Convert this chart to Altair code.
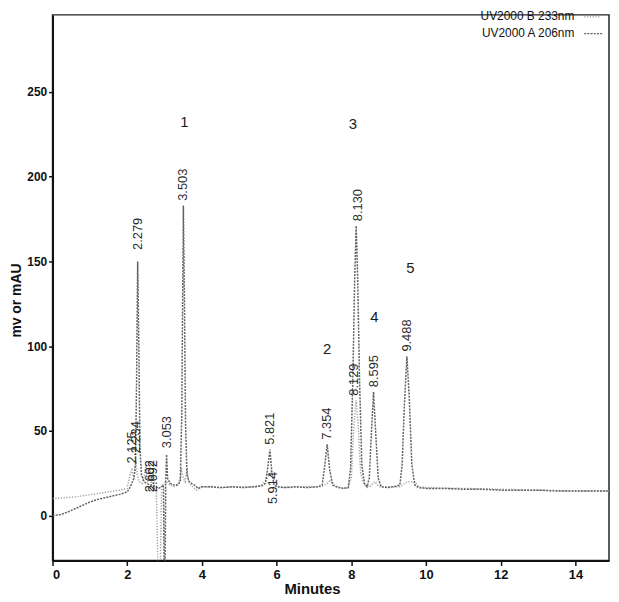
import altair as alt
import pandas as pd

series_b = "UV2000 B 233nm"
series_a = "UV2000 A 206nm"

# (minutes, mV)
b_points = [(0, 10), (0.3, 10.5), (0.6, 11), (0.9, 12), (1.2, 13), (1.5, 14), (1.8, 15), (2.0, 16),
            (2.05, 22), (2.09, 25), (2.125, 27), (2.17, 22), (2.2, 26), (2.234, 32), (2.27, 24),
            (2.32, 20), (2.4, 19), (2.46, 24), (2.5, 30), (2.55, 20), (2.602, 28), (2.65, 18),
            (2.692, 26), (2.73, 16), (2.78, 14), (2.83, -40), (2.88, -40), (2.92, 17), (2.97, 19),
            (3.05, 20), (3.15, 18), (3.25, 17), (3.35, 18), (3.42, 22), (3.45, 28), (3.5, 22),
            (3.55, 20), (3.6, 28), (3.64, 20), (3.75, 17), (3.85, 15), (4.0, 17), (4.5, 16.5),
            (5.0, 17), (5.4, 17), (5.6, 18), (5.75, 22), (5.85, 26), (5.914, 22), (5.95, 20),
            (6.05, 17), (6.3, 16.5), (6.8, 17), (7.2, 17), (7.35, 19), (7.45, 21), (7.55, 18),
            (7.7, 16), (7.9, 16.5), (8.0, 22), (8.06, 50), (8.129, 68), (8.18, 55), (8.25, 25),
            (8.35, 18), (8.5, 17), (8.62, 20), (8.75, 17), (9.0, 17), (9.3, 17), (9.5, 20),
            (9.7, 20), (9.8, 17), (10.0, 16.5), (11, 16), (12, 15.5), (13, 15), (14, 14.5),
            (14.9, 14.5)]

a_points = [(0, 0), (0.2, 0.5), (0.4, 2), (0.6, 4), (0.8, 6), (1.0, 8), (1.2, 9.5), (1.4, 10.5),
            (1.6, 11.5), (1.8, 12.5), (2.0, 14), (2.06, 16), (2.12, 19), (2.18, 22), (2.22, 30),
            (2.25, 80), (2.279, 150), (2.31, 100), (2.34, 40), (2.38, 24), (2.45, 20), (2.52, 19),
            (2.6, 18), (2.68, 18), (2.76, 17), (2.84, 16), (2.92, 17), (2.97, 18), (2.99, -40),
            (3.01, -40), (3.03, 20), (3.053, 36), (3.08, 22), (3.15, 19), (3.25, 18), (3.35, 18),
            (3.42, 20), (3.46, 60), (3.48, 120), (3.503, 183), (3.53, 130), (3.56, 55), (3.6, 24),
            (3.66, 20), (3.72, 19), (3.8, 18), (3.9, 16), (4.0, 17), (4.2, 17), (4.5, 16.5),
            (4.8, 17), (5.1, 16.5), (5.4, 17), (5.6, 17.5), (5.7, 19), (5.76, 28), (5.821, 39),
            (5.87, 26), (5.93, 18), (6.0, 17), (6.2, 16.5), (6.5, 17), (6.8, 16.5), (7.1, 17),
            (7.22, 18), (7.28, 28), (7.354, 42), (7.42, 27), (7.5, 18), (7.6, 17), (7.8, 16),
            (7.92, 16.5), (7.98, 28), (8.04, 80), (8.09, 140), (8.13, 171), (8.17, 140), (8.22, 80),
            (8.28, 30), (8.35, 19), (8.42, 17), (8.48, 22), (8.54, 50), (8.595, 73), (8.65, 50),
            (8.72, 22), (8.8, 17), (8.95, 16.5), (9.15, 17), (9.3, 18), (9.36, 30), (9.42, 65),
            (9.488, 94), (9.55, 70), (9.62, 30), (9.7, 18), (9.8, 16.5), (10.0, 16), (10.5, 16),
            (11.0, 15.5), (11.5, 15.5), (12.0, 15), (12.5, 15), (13.0, 15), (13.5, 14.5),
            (14.0, 14.5), (14.5, 14.5), (14.9, 14.5)]

rt_labels = ["2.125", "2.234", "2.279", "2.602", "2.692", "3.053", "3.503", "5.821", "5.914",
             "7.354", "8.129", "8.130", "8.595", "9.488"]
rt_times = [2.125, 2.234, 2.279, 2.602, 2.692, 3.053, 3.503, 5.821, 5.914, 7.354, 8.08, 8.17, 8.595, 9.488]
rt_heights = [29, 35, 155, 12, 12, 38, 184, 40, 5, 43, 69, 172, 74, 95]

compound_ids = ["1", "2", "3", "4", "5"]
compound_times = [3.53, 7.35, 8.04, 8.62, 9.58]
compound_heights = [232, 98, 231, 117, 146]

x_ticks = [0, 2, 4, 6, 8, 10, 12, 14]
y_ticks = [0, 50, 100, 150, 200, 250]

FONT = "Liberation Sans"

df_b = pd.DataFrame(b_points, columns=["t", "v"])
df_a = pd.DataFrame(a_points, columns=["t", "v"])
df_rt = pd.DataFrame({"label": rt_labels, "t": rt_times, "v": rt_heights})
df_cmp = pd.DataFrame({"label": compound_ids, "t": compound_times, "v": compound_heights})

xs = alt.Scale(domain=[0, 14.9], nice=False, zero=False)
ys = alt.Scale(domain=[-26.5, 295.5], nice=False, zero=False)

x_axis = alt.Axis(values=x_ticks, format="d", title="Minutes", grid=False,
                  labelFont=FONT, labelFontSize=13, labelFontWeight="bold", labelColor="#111",
                  titleFont=FONT, titleFontSize=15, titleFontWeight="bold",
                  titleColor="#111", titlePadding=0, titleX=262,
                  domainColor="#111", domainWidth=2, tickColor="#111", tickSize=5, tickWidth=1.5,
                  labelPadding=3)
y_axis = alt.Axis(values=y_ticks, format="d", title="mv or mAU", grid=False,
                  labelFont=FONT, labelFontSize=12, labelFontWeight="bold", labelColor="#111",
                  titleFont=FONT, titleFontSize=14, titleFontWeight="bold",
                  titleColor="#111", titleX=-29, titleY=288,
                  domainColor="#111", domainWidth=2, tickColor="#111", tickSize=4, tickWidth=1.5,
                  labelPadding=2)

line_b = alt.Chart(df_b).mark_line(clip=True, color="#a0a0a0", strokeDash=[1.2, 1.6],
                                   strokeWidth=1.5).encode(
    x=alt.X("t:Q", scale=xs, axis=x_axis),
    y=alt.Y("v:Q", scale=ys, axis=y_axis),
)
line_a = alt.Chart(df_a).mark_line(clip=True, color="#606060", strokeDash=[2, 1.2],
                                   strokeWidth=1.5).encode(
    x=alt.X("t:Q", scale=xs),
    y=alt.Y("v:Q", scale=ys),
)
rt_text = alt.Chart(df_rt).mark_text(angle=270, align="left", baseline="middle", dx=3,
                                     font=FONT, fontSize=13, color="#2a2a2a").encode(
    x=alt.X("t:Q", scale=xs),
    y=alt.Y("v:Q", scale=ys),
    text="label:N",
)
cmp_text = alt.Chart(df_cmp).mark_text(align="center", baseline="middle",
                                       font=FONT, fontSize=15, color="#1a1a1a").encode(
    x=alt.X("t:Q", scale=xs),
    y=alt.Y("v:Q", scale=ys),
    text="label:N",
)

leg_b_text = alt.Chart(pd.DataFrame({"name": [series_b]})).mark_text(
    align="right", baseline="middle", font=FONT, fontSize=12, color="#111").encode(
    x=alt.value(527), y=alt.value(1), text="name:N")
leg_a_text = alt.Chart(pd.DataFrame({"name": [series_a]})).mark_text(
    align="right", baseline="middle", font=FONT, fontSize=12, color="#111").encode(
    x=alt.value(527), y=alt.value(18), text="name:N")
leg_b_line = alt.Chart(pd.DataFrame({"name": [series_b]})).mark_rule(
    color="#a0a0a0", strokeDash=[1.2, 1.6], strokeWidth=1.3).encode(
    x=alt.value(537), x2=alt.value(553), y=alt.value(2))
leg_a_line = alt.Chart(pd.DataFrame({"name": [series_a]})).mark_rule(
    color="#606060", strokeDash=[2, 1.2], strokeWidth=1.3).encode(
    x=alt.value(537), x2=alt.value(555), y=alt.value(19))

chart = alt.layer(line_b, line_a, rt_text, cmp_text, leg_b_text, leg_a_text, leg_b_line,
                  leg_a_line).properties(
    width=562, height=551,
    autosize=alt.AutoSizeParams(type="none"),
    padding={"left": 45, "top": 4, "right": 2, "bottom": 38},
    background="white",
).configure_view(stroke="#222", strokeWidth=1.5)

chart.save("out.html", embed_options={"renderer": "svg", "actions": False})
